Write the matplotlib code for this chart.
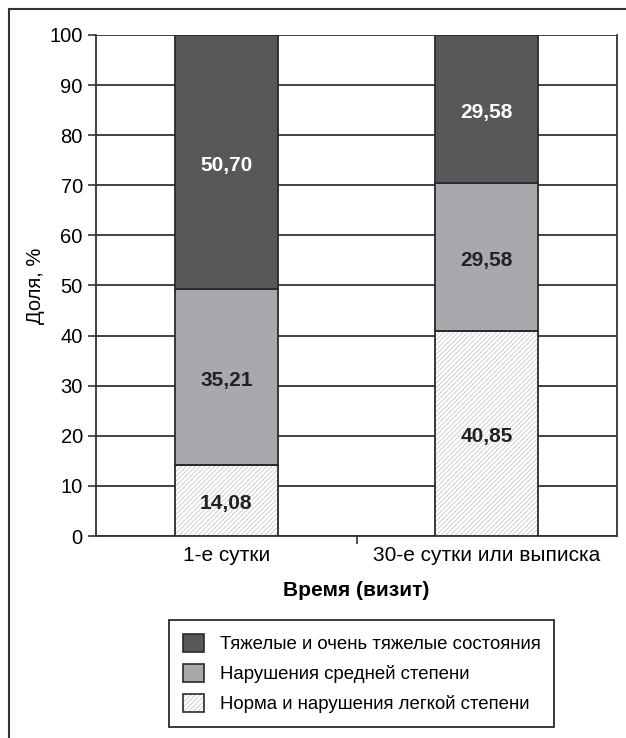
import matplotlib
matplotlib.use("Agg")
import numpy as np
import matplotlib.pyplot as plt
from matplotlib.patches import Patch, Rectangle
from matplotlib.legend_handler import HandlerTuple

plt.rcParams['font.family'] = ['Liberation Sans', 'DejaVu Sans']
plt.rcParams['hatch.linewidth'] = 0.6

# data
categories = ['1-е сутки', '30-е сутки или выписка']
light = [14.08, 40.85]
middle = [35.21, 29.58]
heavy = [50.70, 29.58]
series_names = ['Тяжелые и очень тяжелые состояния',
                'Нарушения средней степени',
                'Норма и нарушения легкой степени']
yticks = list(range(0, 101, 10))

c_heavy = '#58585a'
c_mid = '#a8a9ad'
c_hatch = '#c8c8c8'
c_line = '#2a2a2a'

fig = plt.figure(figsize=(6.26, 7.38), dpi=100)
ax = fig.add_axes([0.1534, 0.2737, 0.8322, 0.6789])

x = np.arange(len(categories))
w = 0.395

# light (hatched) segment: hatch drawn in gray, outline on top in black
ax.bar(x, light, w, color='white', edgecolor=c_hatch, hatch='///////', linewidth=0, zorder=3)
ax.bar(x, light, w, color='none', edgecolor=c_line, linewidth=1.3, zorder=4)
ax.bar(x, middle, w, bottom=light, color=c_mid, edgecolor=c_line, linewidth=1.3, zorder=3)
bottom2 = np.array(light) + np.array(middle)
ax.bar(x, heavy, w, bottom=bottom2, color=c_heavy, edgecolor=c_line, linewidth=1.3, zorder=3)

def fmt(v):
    return f'{v:.2f}'.replace('.', ',')

off = -0.6
for i in range(len(categories)):
    ax.text(x[i], light[i] / 2 + off, fmt(light[i]),
            ha='center', va='center', fontsize=15, fontweight='bold', color='#222222', zorder=5)
    ax.text(x[i], light[i] + middle[i] / 2 + off, fmt(middle[i]),
            ha='center', va='center', fontsize=15, fontweight='bold', color='#222222', zorder=5)
    ax.text(x[i], bottom2[i] + heavy[i] / 2 + off, fmt(heavy[i]),
            ha='center', va='center', fontsize=15, fontweight='bold', color='white', zorder=5)

ax.set_xlim(-0.5, 1.5)
ax.set_ylim(0, 100)
ax.set_yticks(yticks)
ax.yaxis.grid(True, color='#333333', linewidth=1.3, zorder=0)
ax.set_axisbelow(True)

ax.set_xticks(x)
ax.set_xticklabels(categories, fontsize=15)
ax.tick_params(axis='x', length=0, pad=7)
ax.set_xticks([0.5], minor=True)
ax.tick_params(axis='x', which='minor', length=6, width=1.2, color='#333333')
ax.tick_params(axis='y', labelsize=14.5, length=6, width=1.2, color='#333333')

for s in ['left', 'bottom', 'right']:
    ax.spines[s].set_color('#333333')
    ax.spines[s].set_linewidth(1.3)
ax.spines['top'].set_visible(False)

ax.set_xlabel('Время (визит)', fontsize=15, fontweight='bold', labelpad=12)
ax.set_ylabel('Доля, %', fontsize=14.5, labelpad=3)

# legend
h_heavy = Patch(facecolor=c_heavy, edgecolor=c_line, linewidth=1.2)
h_mid = Patch(facecolor=c_mid, edgecolor=c_line, linewidth=1.2)
h_light = (Patch(facecolor='white', edgecolor=c_hatch, hatch='///////', linewidth=0),
           Patch(facecolor='none', edgecolor=c_line, linewidth=1.2))
leg = fig.legend([h_heavy, h_mid, h_light], series_names,
                 handler_map={tuple: HandlerTuple(ndivide=1, pad=0)},
                 loc='center', bbox_to_anchor=(0.5775, 0.0874), fontsize=13.4,
                 fancybox=False, framealpha=1, edgecolor=c_line,
                 handlelength=1.15, handleheight=1.15, handletextpad=0.85,
                 labelspacing=0.55, borderpad=0.75, borderaxespad=0)
leg.get_frame().set_linewidth(1.3)

# outer frame (only left and top visible in the picture)
fig.patches.append(Rectangle((9 / 626, -0.05), 1.2, (738 - 9) / 738 + 0.05,
                             transform=fig.transFigure, fill=False,
                             edgecolor='#333333', linewidth=1.5))

fig.savefig('out.png', dpi=100)
